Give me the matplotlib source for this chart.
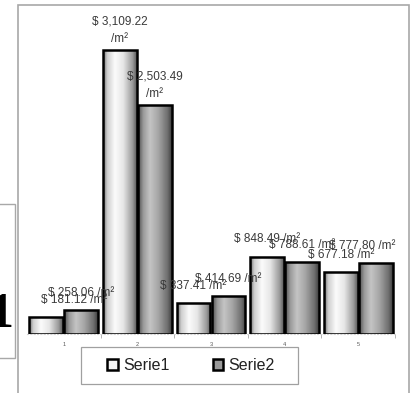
import numpy as np
import matplotlib
matplotlib.use("Agg")
import matplotlib.pyplot as plt
from matplotlib.patches import Rectangle, Patch
from matplotlib.colors import LinearSegmentedColormap

plt.rcParams['font.family'] = ['Liberation Sans', 'DejaVu Sans']

categories = ["1", "2", "3", "4", "5"]
serie1 = [181.12, 3109.22, 337.41, 848.49, 677.18]
serie2 = [258.06, 2503.49, 414.69, 788.61, 777.80]
series_names = ["Serie1", "Serie2"]

W, H = 417, 393
fig = plt.figure(figsize=(W / 100, H / 100), dpi=100)
fig.patch.set_facecolor("white")

# outer chart frame
fig.patches.append(Rectangle((18 / W, -0.01), (409 - 18) / W, (H - 5) / H + 0.01,
                             transform=fig.transFigure, fill=False,
                             edgecolor="#a8a8a8", linewidth=1.2))
# partial box at left
fig.patches.append(Rectangle((-0.01, (H - 358) / H), (15 / W) + 0.01, (358 - 204) / H,
                             transform=fig.transFigure, fill=False,
                             edgecolor="#a8a8a8", linewidth=1.0))
fig.text(-11 / W, (H - 315) / H, "1", family="Liberation Serif", fontsize=36,
         fontweight="bold", color="black", ha="left", va="center")

ax = fig.add_axes([27 / W, (H - 334) / H, (395 - 27) / W, (334 - 14.4) / H])
ax.patch.set_alpha(0)
ax.set_xlim(0.5, 5.5)
ax.set_ylim(0, 3500)
for s in ax.spines.values():
    s.set_visible(False)
ax.spines['bottom'].set_visible(True)
ax.spines['bottom'].set_color("#d0d0d0")
ax.spines['bottom'].set_linestyle((0, (1, 2)))
ax.set_yticks([])
x = np.arange(1, len(categories) + 1)
ax.set_xticks(x)
ax.set_xticklabels(categories, fontsize=4, color="#555555")
ax.set_xticks(np.arange(1.5, 5.6, 1.0), minor=True)
ax.tick_params(axis="x", which="major", length=0, pad=6)
ax.tick_params(axis="x", which="minor", length=3, color="#aaaaaa", width=0.6)

bw = 0.475
cm1 = LinearSegmentedColormap.from_list("s1", [(0, "#707070"), (0.12, "#cfcfcf"), (0.35, "#fbfbfb"),
                                              (0.6, "#e6e6e6"), (0.88, "#9a9a9a"), (1, "#5a5a5a")])
cm2 = LinearSegmentedColormap.from_list("s2", [(0, "#505050"), (0.15, "#9a9a9a"), (0.35, "#c4c4c4"),
                                              (0.6, "#a6a6a6"), (0.88, "#6e6e6e"), (1, "#404040")])
grad = np.linspace(0, 1, 64).reshape(1, -1)

offsets1 = [20, 0, 0, 0, 0]
offsets2 = [0, 0, 0, 0, -10]

for vals, off, cm, offs in [(serie1, -bw / 2, cm1, offsets1), (serie2, bw / 2, cm2, offsets2)]:
    bars = ax.bar(x + off, vals, width=bw * 0.97, color="none", edgecolor="black",
                  linewidth=1.8, zorder=3)
    for b, v, o in zip(bars, vals, offs):
        x0, w = b.get_x(), b.get_width()
        im = ax.imshow(grad, cmap=cm, aspect="auto", extent=[x0, x0 + w, 0, v],
                       zorder=2, interpolation="bilinear")
        im.set_clip_path(b)
        if v > 2000:
            lbl = f"$ {v:,.2f}\n/m²"
            ax.annotate(lbl, (x0 + w / 2, v), xytext=(o, 4), textcoords="offset points",
                        ha="center", va="bottom", fontsize=8.5, color="#3a3a3a",
                        linespacing=1.6, zorder=5)
        else:
            lbl = f"$ {v:,.2f} /m²"
            ax.annotate(lbl, (x0 + w / 2, v), xytext=(o, 12.5), textcoords="offset points",
                        ha="center", va="center", fontsize=8.5, color="#3a3a3a", zorder=5)

ax.set_xlim(0.5, 5.5)
ax.set_ylim(0, 3500)

# legend frame drawn explicitly
fig.patches.append(Rectangle((81 / W, (H - 384) / H), (298 - 81) / W, (384 - 347) / H,
                             transform=fig.transFigure, facecolor="white",
                             edgecolor="#a0a0a0", linewidth=0.9, zorder=4))
handles = [Patch(facecolor="#f4f4f4", edgecolor="black", linewidth=1.8),
           Patch(facecolor="#9a9a9a", edgecolor="black", linewidth=1.8)]
leg = fig.legend(handles, series_names, loc="center",
                 bbox_to_anchor=(191 / W, 1 - (347 + 384) / 2 / H),
                 ncol=2, fontsize=11.5, frameon=False,
                 handlelength=0.65, handleheight=0.75, handletextpad=0.35,
                 columnspacing=2.7)
for t in leg.get_texts():
    t.set_color("#222222")

fig.savefig("out.png", dpi=100)
